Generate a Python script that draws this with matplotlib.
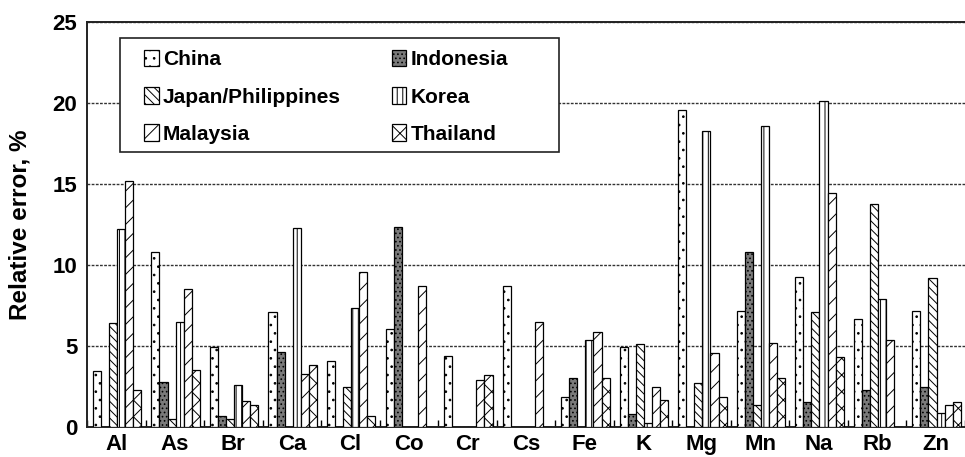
import matplotlib.pyplot as plt
import numpy as np
from matplotlib.patches import Rectangle

plt.rcParams['font.family'] = ['Liberation Sans', 'DejaVu Sans']
plt.rcParams['font.weight'] = 'bold'
plt.rcParams['hatch.linewidth'] = 0.7

elements = ['Al', 'As', 'Br', 'Ca', 'Cl', 'Co', 'Cr', 'Cs', 'Fe', 'K',
            'Mg', 'Mn', 'Na', 'Rb', 'Zn']
countries = ['China', 'Indonesia', 'Japan/Philippines', 'Korea',
             'Malaysia', 'Thailand']

china = [3.45, 10.8, 4.95, 7.1, 4.1, 6.05, 4.4, 8.7, 1.85, 4.95,
         19.55, 7.15, 9.25, 6.65, 7.15]
indonesia = [0, 2.75, 0.7, 4.6, 0, 12.35, 0, 0, 3.0, 0.8,
             0, 10.8, 1.55, 2.3, 2.45]
japan = [6.4, 0.5, 0.5, 0, 2.5, 0, 0, 0, 0, 5.1,
         2.7, 1.35, 7.1, 13.75, 9.2]
korea = [12.2, 6.5, 2.6, 12.3, 7.35, 0, 0, 0, 5.35, 0.25,
         18.25, 18.6, 20.1, 7.9, 0.85]
malaysia = [15.2, 8.5, 1.6, 3.3, 9.55, 8.7, 2.9, 6.5, 5.85, 2.45,
            4.55, 5.2, 14.45, 5.35, 1.35]
thailand = [2.3, 3.5, 1.35, 3.8, 0.7, 0, 3.2, 0, 3.0, 1.65,
            1.85, 3.0, 4.3, 0, 1.55]

series = [china, indonesia, japan, korea, malaysia, thailand]
faces = ['white', '#7a7a7a', 'white', 'white', 'white', 'white']
hatches = ['..', '....', '\\\\\\\\', '|||', '//', 'xx']

fig = plt.figure(figsize=(9.65, 4.57), dpi=100)
ax = fig.add_axes([87 / 965, 30 / 457, 878 / 965, 405 / 457])

x = np.arange(len(elements))
w = 0.138
start = -0.5 + 0.1
handles = []
for j, vals in enumerate(series):
    b = ax.bar(x + start + j * w, vals, width=w, align='edge',
               color=faces[j], edgecolor='black', linewidth=0.9,
               hatch=hatches[j], label=countries[j], zorder=3)
    handles.append(b)

ax.set_xlim(-0.5, len(elements) - 0.5)
ax.set_ylim(0, 25)
ax.set_yticks([0, 5, 10, 15, 20, 25])
ax.set_xticks(x)
ax.set_xticklabels(elements)
ax.set_xticks(np.arange(len(elements) + 1) - 0.5, minor=True)
ax.tick_params(axis='x', which='major', length=0, pad=5, labelsize=16)
ax.tick_params(axis='x', which='minor', direction='in', length=5,
               width=1, color='black')
ax.tick_params(axis='y', length=0, pad=7, labelsize=16)
for lab in ax.get_xticklabels() + ax.get_yticklabels():
    lab.set_fontweight('bold')

ax.yaxis.grid(True, linestyle=(0, (2, 1)), color='#333333', linewidth=1,
              zorder=0)
ax.set_axisbelow(True)
ax.spines['right'].set_visible(False)
for s in ['left', 'top', 'bottom']:
    ax.spines[s].set_linewidth(1.4)
    ax.spines[s].set_color('#222222')

ax.set_ylabel('Relative error, %', fontsize=17.5, fontweight='bold')
ax.yaxis.set_label_coords(-0.063, 0.5)

# legend box
ax.add_patch(Rectangle((0.0376, 0.679), 0.5, 0.282,
                       transform=ax.transAxes, facecolor='white',
                       edgecolor='#222222', linewidth=1.2, zorder=4))
order = [0, 2, 4, 1, 3, 5]
leg = ax.legend(handles=[handles[i] for i in order],
                labels=[countries[i] for i in order],
                ncol=2, loc='upper left',
                bbox_to_anchor=(0.0555, 0.952), frameon=False,
                fontsize=15, handlelength=0.7, handleheight=0.85,
                handletextpad=0.2, columnspacing=2.45, labelspacing=0.85,
                borderaxespad=0)
leg.set_zorder(5)
for t in leg.get_texts():
    t.set_fontweight('bold')

fig.savefig('out.png', dpi=100)
